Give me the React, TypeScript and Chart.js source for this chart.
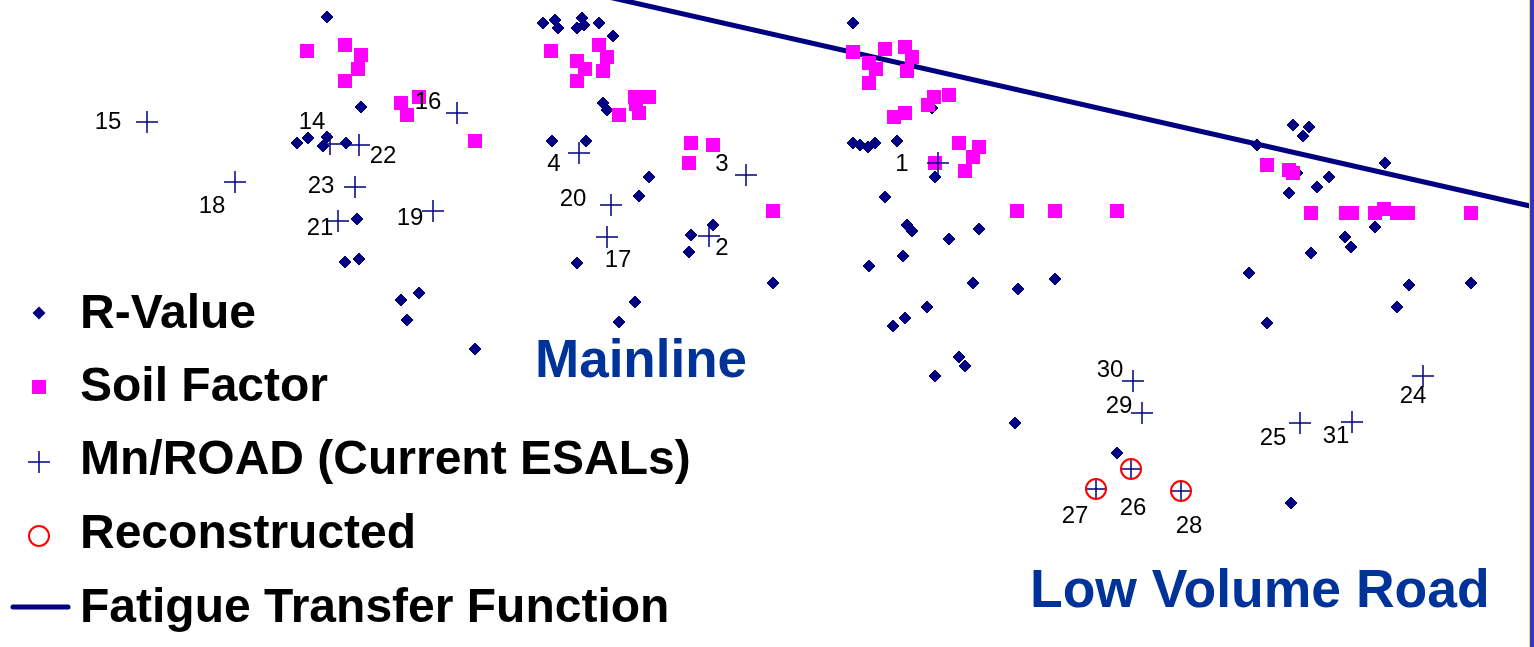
import React, { useEffect, useRef } from "react";
import { Chart, registerables } from "chart.js";

Chart.register(...registerables);

// ---- Data (arbitrary horizontal / vertical units, vertical axis grows downward) ----
const rValuePoints: [number, number][] = [
  [327, 17], [361, 107], [297, 143], [308, 138], [327, 137], [323, 146], [346, 143], [357, 219],
  [345, 262], [359, 259], [401, 300], [419, 293], [407, 320], [475, 349],
  [543, 23], [555, 20], [558, 28], [577, 28], [582, 18], [584, 25], [599, 23], [613, 36],
  [603, 103], [607, 110], [552, 141], [586, 141], [649, 177], [639, 196], [713, 225], [691, 235],
  [689, 252], [577, 263], [773, 283], [635, 302], [619, 322],
  [853, 23], [853, 143], [860, 145], [868, 147], [875, 143], [897, 141], [932, 108], [935, 177],
  [885, 197], [907, 225], [912, 231], [949, 239], [979, 229], [869, 266], [903, 256], [973, 283],
  [1018, 289], [927, 307], [905, 318], [893, 326], [959, 357], [965, 366], [935, 376], [1015, 423],
  [1055, 279], [1117, 453], [1293, 125], [1309, 127], [1303, 136], [1257, 145], [1385, 163],
  [1297, 173], [1329, 177], [1317, 187], [1289, 193], [1375, 227], [1345, 237], [1351, 247],
  [1311, 253], [1249, 273], [1267, 323], [1409, 285], [1397, 307], [1471, 283], [1291, 503],
];

const soilFactorPoints: [number, number][] = [
  [307, 51], [345, 45], [361, 55], [358, 69], [345, 81], [401, 103], [419, 97], [407, 115], [475, 141],
  [551, 51], [599, 45], [607, 57], [577, 61], [585, 69], [603, 71], [577, 81], [635, 97], [649, 97],
  [636, 104], [639, 113], [619, 115], [691, 143], [713, 145], [689, 163], [773, 211],
  [853, 52], [885, 49], [905, 47], [912, 57], [869, 63], [876, 69], [907, 71], [869, 83], [934, 97],
  [949, 95], [928, 105], [905, 113], [894, 117], [959, 143], [979, 147], [973, 157], [935, 163],
  [965, 171],
  [1017, 211], [1055, 211], [1117, 211], [1267, 165], [1289, 170], [1293, 173], [1311, 213],
  [1346, 213], [1352, 213], [1375, 213], [1384, 209], [1397, 213], [1408, 213], [1471, 213],
];

const mnroadLabels: string[] = [
  "15", "18", "14", "22", "23", "21", "19", "16", "4", "20", "17", "3", "2", "1",
  "30", "29", "24", "25", "31", "26", "27", "28",
];
const mnroadPoints: [number, number][] = [
  [147, 122], [235, 182], [330, 144], [359, 145], [355, 187], [338, 221], [433, 211], [457, 113],
  [579, 153], [611, 205], [607, 237], [746, 175], [709, 236], [938, 163],
  [1133, 381], [1142, 413], [1423, 376], [1300, 423], [1352, 422], [1131, 469], [1096, 489], [1181, 491],
];

const reconstructedPoints: [number, number][] = [
  [1096, 489], [1131, 469], [1181, 491],
];

const fatiguePoints: [number, number][] = [
  [560, -14], [1530, 206],
];

// ---- Layout / style (not data) ----
// label offsets (pixels) of the Mn/ROAD section numbers relative to their cross
const mnroadLabelOffsets: [number, number][] = [
  [-39, 0], [-23, 24], [-18, -22], [24, 11], [-34, -1], [-18, 7], [-23, 7], [-29, -11],
  [-25, 11], [-38, -6], [11, 23], [-24, -11], [13, 12], [-36, 1],
  [-23, -11], [-23, -7], [-10, 20], [-27, 15], [-16, 14], [2, 39], [-21, 27], [8, 35],
];

const NAVY = "#000080";
const MAGENTA = "#ff00ff";
const RED = "#ff0000";
const REGION_BLUE = "#003399";
const FONT = '"Liberation Sans", Arial, Helvetica, sans-serif';

const toXY = (pts: [number, number][]) => pts.map(([x, y]) => ({ x, y }));

const labelsPlugin = {
  id: "mnroadLabels",
  afterDatasetsDraw(chart: any) {
    const ctx = chart.ctx as CanvasRenderingContext2D;
    const xs = chart.scales.x;
    const ys = chart.scales.y;
    ctx.save();
    ctx.font = `24px ${FONT}`;
    ctx.fillStyle = "#000";
    ctx.textAlign = "center";
    ctx.textBaseline = "middle";
    mnroadPoints.forEach(([x, y], i) => {
      const [dx, dy] = mnroadLabelOffsets[i];
      ctx.fillText(mnroadLabels[i], xs.getPixelForValue(x) + dx, ys.getPixelForValue(y) + dy);
    });
    // region captions
    ctx.font = `bold 53px ${FONT}`;
    ctx.fillStyle = REGION_BLUE;
    ctx.textAlign = "left";
    ctx.textBaseline = "alphabetic";
    ctx.fillText("Mainline", 535, 377);
    ctx.font = `bold 53.5px ${FONT}`;
    ctx.fillText("Low Volume Road", 1030, 607);
    ctx.restore();
  },
};

const legendPlugin = {
  id: "customLegend",
  afterDraw(chart: any) {
    const ctx = chart.ctx as CanvasRenderingContext2D;
    const ds = chart.data.datasets;
    const mx = 39;
    const tx = 80;
    const rows = [
      { baseline: 328, cy: 313 },
      { baseline: 401, cy: 387 },
      { baseline: 474, cy: 462 },
      { baseline: 548, cy: 536 },
      { baseline: 622, cy: 607 },
    ];
    ctx.save();
    // diamond
    ctx.fillStyle = NAVY;
    ctx.beginPath();
    ctx.moveTo(mx - 6.5, rows[0].cy);
    ctx.lineTo(mx, rows[0].cy - 6.5);
    ctx.lineTo(mx + 6.5, rows[0].cy);
    ctx.lineTo(mx, rows[0].cy + 6.5);
    ctx.closePath();
    ctx.fill();
    // square
    ctx.fillStyle = MAGENTA;
    ctx.fillRect(mx - 7, rows[1].cy - 7, 14, 14);
    // cross
    ctx.strokeStyle = NAVY;
    ctx.lineWidth = 1.5;
    ctx.beginPath();
    ctx.moveTo(mx - 11, rows[2].cy);
    ctx.lineTo(mx + 11, rows[2].cy);
    ctx.moveTo(mx, rows[2].cy - 11);
    ctx.lineTo(mx, rows[2].cy + 11);
    ctx.stroke();
    // circle
    ctx.strokeStyle = RED;
    ctx.lineWidth = 2;
    ctx.beginPath();
    ctx.arc(mx, rows[3].cy, 10, 0, Math.PI * 2);
    ctx.stroke();
    // line
    ctx.strokeStyle = NAVY;
    ctx.lineWidth = 5;
    ctx.lineCap = "round";
    ctx.beginPath();
    ctx.moveTo(13, rows[4].cy);
    ctx.lineTo(68, rows[4].cy);
    ctx.stroke();
    // texts
    ctx.font = `bold 48px ${FONT}`;
    ctx.fillStyle = "#000";
    ctx.textAlign = "left";
    ctx.textBaseline = "alphabetic";
    [0, 1, 2, 3, 4].forEach((di, i) => {
      ctx.fillText(ds[di].label, tx, rows[i].baseline);
    });
    ctx.restore();
  },
};

export default function App() {
  const ref = useRef<HTMLCanvasElement>(null);

  useEffect(() => {
    if (!ref.current) return;
    const chart = new Chart(ref.current, {
      type: "scatter",
      data: {
        datasets: [
          {
            label: "R-Value",
            data: toXY(rValuePoints),
            pointStyle: "rectRot",
            pointRadius: 6,
            backgroundColor: NAVY,
            borderColor: NAVY,
            borderWidth: 1,
            order: 4,
          },
          {
            label: "Soil Factor",
            data: toXY(soilFactorPoints),
            pointStyle: "rect",
            pointRadius: 9.9,
            backgroundColor: MAGENTA,
            borderColor: MAGENTA,
            borderWidth: 0,
            order: 3,
          },
          {
            label: "Mn/ROAD (Current ESALs)",
            data: toXY(mnroadPoints),
            pointStyle: "cross",
            pointRadius: 11,
            backgroundColor: NAVY,
            borderColor: NAVY,
            borderWidth: 1.5,
            order: 1,
          },
          {
            label: "Reconstructed",
            data: toXY(reconstructedPoints),
            pointStyle: "circle",
            pointRadius: 10,
            backgroundColor: "rgba(0,0,0,0)",
            borderColor: RED,
            borderWidth: 2,
            order: 0,
          },
          {
            label: "Fatigue Transfer Function",
            data: toXY(fatiguePoints),
            showLine: true,
            pointRadius: 0,
            borderColor: NAVY,
            backgroundColor: NAVY,
            borderWidth: 5,
            order: 5,
          },
        ],
      },
      options: {
        animation: false,
        responsive: false,
        events: [],
        layout: { padding: 0, autoPadding: false },
        plugins: {
          legend: { display: false },
          tooltip: { enabled: false },
          title: { display: false },
        },
        scales: {
          x: { type: "linear", min: 0, max: 1534, display: false },
          y: { type: "linear", min: 0, max: 647, reverse: true, display: false },
        },
      },
      plugins: [labelsPlugin, legendPlugin],
    } as any);
    return () => chart.destroy();
  }, []);

  return (
    <div
      style={{
        position: "absolute",
        left: 0,
        top: 0,
        width: 1534,
        height: 647,
        background: "#ffffff",
        overflow: "hidden",
      }}
    >
      <canvas ref={ref} width={1534} height={647} style={{ display: "block" }} />
      <div style={{ position: "absolute", left: 1529, top: 0, width: 1, height: 647, background: "#e8e060" }} />
      <div style={{ position: "absolute", left: 1530, top: 0, width: 4, height: 647, background: "#3333cc" }} />
    </div>
  );
}
